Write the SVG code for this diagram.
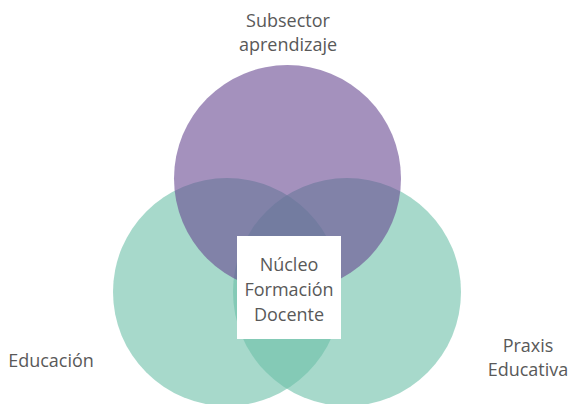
<svg xmlns="http://www.w3.org/2000/svg" width="571" height="404" viewBox="0 0 571 404">
<style>
.t{font-family:"Open Sans","Liberation Sans",sans-serif;font-size:18px;fill:#595959;text-anchor:middle}
.g{fill:#6CC0A8;fill-opacity:0.6}
.p{fill:#674891;fill-opacity:0.6}
</style>
<rect width="571" height="404" fill="#ffffff"/>
<g id="educacion">
<circle class="g" cx="227" cy="292" r="114"/>
<text class="t" x="51" y="367">Educación</text>
</g>
<g id="praxis">
<circle class="g" cx="347" cy="292" r="114"/>
<text class="t" x="528" y="352">Praxis</text>
<text class="t" x="528" y="376">Educativa</text>
</g>
<g id="subsector">
<circle class="p" cx="287.5" cy="178.5" r="113.5"/>
<text class="t" x="288" y="27">Subsector</text>
<text class="t" x="288" y="51">aprendizaje</text>
</g>
<g id="nucleo">
<rect x="237" y="236" width="104" height="103" fill="#ffffff"/>
<text class="t" x="289" y="271">Núcleo</text>
<text class="t" x="289" y="296">Formación</text>
<text class="t" x="289" y="321">Docente</text>
</g>
<g id="connectors"></g>
</svg>
